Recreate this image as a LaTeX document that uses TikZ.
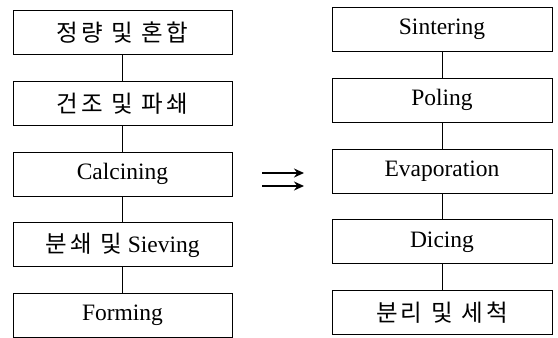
\documentclass[tikz,border=0pt]{standalone}
\usepackage{fontspec}
\setmainfont{Liberation Serif}
\newfontfamily\krfont{Noto Sans CJK KR}
\usepackage{tikz}
\usetikzlibrary{positioning,arrows.meta}
\newcommand{\kr}[1]{{\krfont\addfontfeatures{LetterSpace=14}#1}}

\tikzset{
  stepbox/.style={draw, line width=0.8pt, minimum width=219pt, minimum height=44pt,
    inner sep=0pt, font=\fontsize{23.5}{26}\selectfont},
  link/.style={line width=0.8pt},
}

\begin{document}
\begin{tikzpicture}[x=1pt, y=1pt, node distance=26pt]
            \useasboundingbox (0,0) rectangle (558,338);
            % left column
            \node[stepbox] (l1) at (122.5,305.5) {\kr{정량 및 혼합}};
            \node[stepbox, below=of l1] (l2) {\kr{건조 및 파쇄}};
            \node[stepbox, below=of l2] (l3) {Calcining};
            \node[stepbox, below=of l3] (l4) {\kr{분쇄 및} Sieving};
            \node[stepbox, below=of l4] (l5) {Forming};
            \draw[link] (l1) -- (l2) (l2) -- (l3) (l3) -- (l4) (l4) -- (l5);
            % right column
            \node[stepbox, minimum width=220pt] (r1) at (442,308.5) {Sintering};
            \node[stepbox, minimum width=220pt, below=of r1] (r2) {Poling};
            \node[stepbox, minimum width=220pt, below=of r2] (r3) {Evaporation};
            \node[stepbox, minimum width=220pt, below=of r3] (r4) {Dicing};
            \node[stepbox, minimum width=220pt, below=of r4] (r5) {\kr{분리 및 세척}};
            \draw[link] (r1) -- (r2) (r2) -- (r3) (r3) -- (r4) (r4) -- (r5);
            % arrows between the columns
            \coordinate (a1) at (262,165);
            \coordinate (b1) at (304,165);
            \coordinate (a2) at (262,152);
            \coordinate (b2) at (304,152);
            \draw[-{Stealth[length=10pt,width=9pt]}, line width=1.5pt] (a1) -- (b1);
            \draw[-{Stealth[length=10pt,width=9pt]}, line width=1.5pt] (a2) -- (b2);
        \end{tikzpicture}
\end{document}
